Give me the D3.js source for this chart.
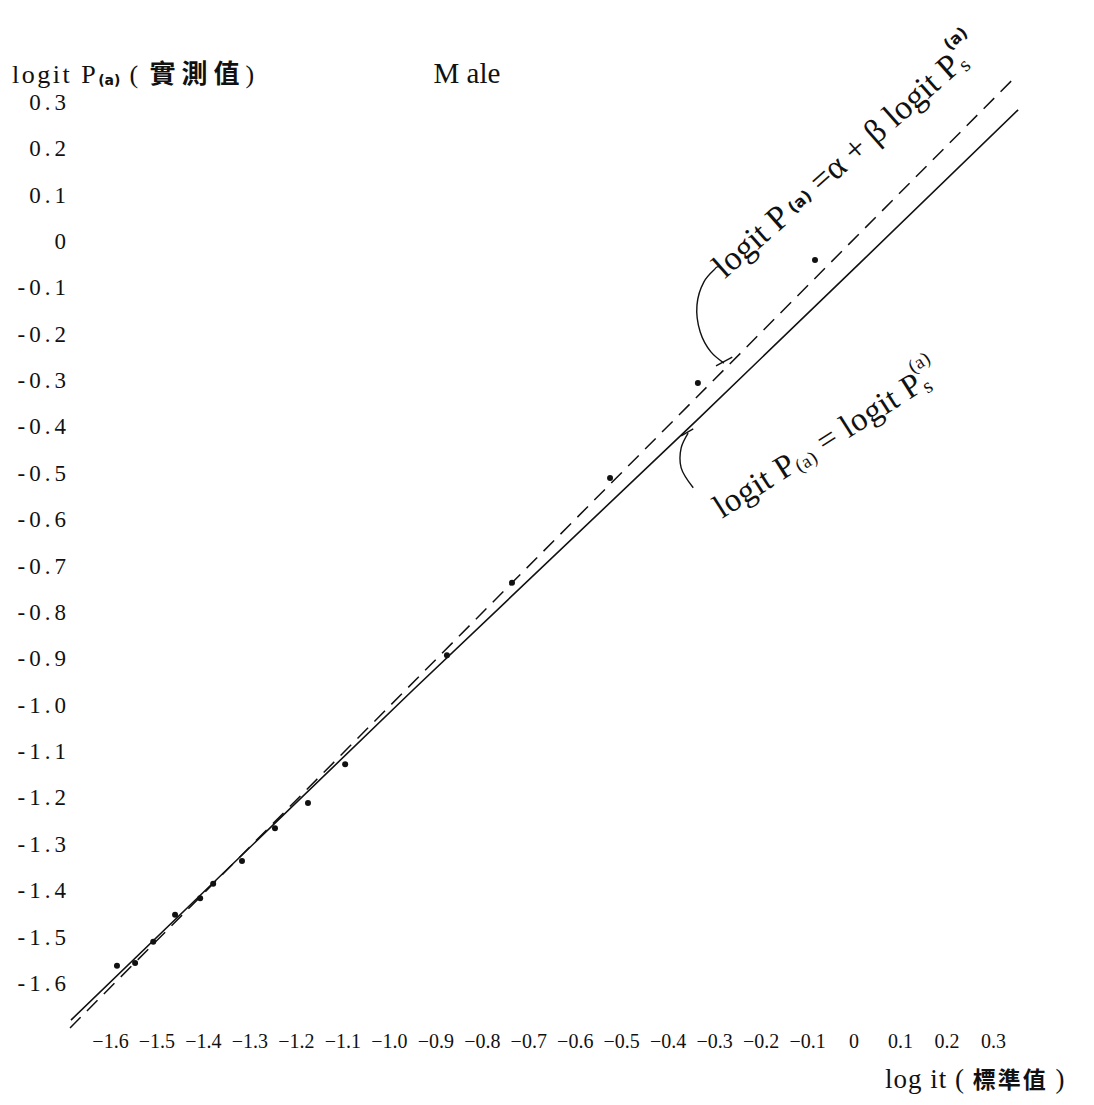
<!DOCTYPE html>
<html lang="en">
<head>
    <meta charset="UTF-8"/>
    <title>Male logit plot</title>
    <script src="https://d3js.org/d3.v7.min.js"></script>
    <style>
        body { margin: 0; background: #fff; }
        text { font-family: "Liberation Serif", "DejaVu Serif", serif; fill: #111; }
        .cjk { font-family: "Noto Sans CJK TC", "Noto Sans CJK SC", sans-serif; font-weight: bold; }
    </style>
</head>
<body>
<script>

    var w = 1094;
    var h = 1105;

    // tick values on both axes
    var xTicks = [-1.6, -1.5, -1.4, -1.3, -1.2, -1.1, -1.0, -0.9, -0.8, -0.7, -0.6, -0.5, -0.4, -0.3, -0.2, -0.1, 0, 0.1, 0.2, 0.3];
    var yTicks = [0.3, 0.2, 0.1, 0, -0.1, -0.2, -0.3, -0.4, -0.5, -0.6, -0.7, -0.8, -0.9, -1.0, -1.1, -1.2, -1.3, -1.4, -1.5, -1.6];

    // observed points: logit standard (x) vs logit observed (y)
    var ptX = [-1.585, -1.546, -1.507, -1.460, -1.406, -1.378, -1.316, -1.245, -1.174, -1.094, -0.875, -0.735, -0.524, -0.335, -0.083];
    var ptY = [-1.563, -1.557, -1.511, -1.453, -1.417, -1.386, -1.337, -1.266, -1.212, -1.128, -0.893, -0.737, -0.511, -0.306, -0.041];

    // line logit P = logit Ps (solid, as drawn)
    var solidX = [-1.684, -0.948, -0.337, 0.014, 0.354];
    var solidY = [-1.680, -0.968, -0.386, -0.047, 0.283];

    // fitted line logit P = a + b logit Ps (dashed)
    var dashX = [-1.686, -0.735, 0.341];
    var dashY = [-1.697, -0.737, 0.347];

    // bracket curves pointing at the two lines
    var brace1X = [-0.300, -0.322, -0.337, -0.330, -0.307, -0.279];
    var brace1Y = [-0.062, -0.088, -0.138, -0.196, -0.239, -0.263];
    var brace2X = [-0.356, -0.371, -0.371, -0.345];
    var brace2Y = [-0.414, -0.446, -0.489, -0.532];

    var x = d3.scaleLinear().domain([-1.6, 0.3]).range([110, 993]);
    var y = d3.scaleLinear().domain([0.3, -1.6]).range([102, 983]);

    var svg = d3.select("body")
                .append("svg")
                .attr("width", w)
                .attr("height", h);

    // y axis labels only
    var yAxis = d3.axisLeft(y)
                  .tickValues(yTicks)
                  .tickSize(0)
                  .tickPadding(0)
                  .tickFormat(function(d){
                      if (d === 0) return "0";
                      return d < 0 ? "-" + Math.abs(d).toFixed(1) : d.toFixed(1);
                  });
    var gy = svg.append("g")
        .attr("transform", "translate(70,0)")
        .call(yAxis);
    gy.select(".domain").remove();
    gy.selectAll("text")
        .style("font-family", "Liberation Serif, serif")
        .style("font-size", "23px")
        .style("letter-spacing", "4px")
        .attr("fill", "#111");

    // x axis labels only
    var xAxis = d3.axisBottom(x)
                  .tickValues(xTicks)
                  .tickSize(0)
                  .tickPadding(0)
                  .tickFormat(function(d){
                      if (d === 0) return "0";
                      return d < 0 ? "\u2212" + Math.abs(d).toFixed(1) : d.toFixed(1);
                  });
    var gx = svg.append("g")
        .attr("transform", "translate(0,1034)")
        .call(xAxis);
    gx.select(".domain").remove();
    gx.selectAll("text")
        .style("font-family", "Liberation Serif, serif")
        .style("font-size", "20px")
        .attr("fill", "#111");

    var line = d3.line()
        .x(function(d){ return x(d[0]); })
        .y(function(d){ return y(d[1]); });

    svg.append("path")
        .datum(d3.zip(solidX, solidY))
        .attr("d", line)
        .attr("fill", "none")
        .attr("stroke", "#111")
        .attr("stroke-width", 1.6);

    svg.append("path")
        .datum(d3.zip(dashX, dashY))
        .attr("d", line)
        .attr("fill", "none")
        .attr("stroke", "#111")
        .attr("stroke-width", 1.5)
        .attr("stroke-dasharray", "15,9");

    svg.selectAll("circle.pt")
        .data(d3.zip(ptX, ptY))
        .enter()
        .append("circle")
        .attr("class", "pt")
        .attr("cx", function(d){ return x(d[0]); })
        .attr("cy", function(d){ return y(d[1]); })
        .attr("r", 3)
        .attr("fill", "#111");

    // brackets
    var curve = d3.line()
        .x(function(d){ return x(d[0]); })
        .y(function(d){ return y(d[1]); })
        .curve(d3.curveCatmullRom);

    [[brace1X, brace1Y], [brace2X, brace2Y]].forEach(function(b){
        svg.append("path")
            .datum(d3.zip(b[0], b[1]))
            .attr("d", curve)
            .attr("fill", "none")
            .attr("stroke", "#111")
            .attr("stroke-width", 1.4);
    });

    // small hook at top of first bracket and ticks at the lines
    svg.append("path")
        .attr("d", "M" + x(-0.300) + "," + y(-0.062) + " q4,-6 7,-1")
        .attr("fill", "none").attr("stroke", "#111").attr("stroke-width", 1.3);
    svg.append("line")
        .attr("x1", x(-0.296)).attr("y1", y(-0.269))
        .attr("x2", x(-0.261)).attr("y2", y(-0.250))
        .attr("stroke", "#111").attr("stroke-width", 1.4);
    svg.append("line")
        .attr("x1", x(-0.371)).attr("y1", y(-0.420))
        .attr("x2", x(-0.345)).attr("y2", y(-0.405))
        .attr("stroke", "#111").attr("stroke-width", 1.4);

    // rotated equations
    var eq1 = svg.append("text")
        .attr("transform", "translate(" + x(-0.277) + "," + y(-0.082) + ") rotate(-41.5)")
        .style("font-size", "34px");
    eq1.append("tspan").text("logit P");
    eq1.append("tspan").text("(a)").style("font-size", "16px").style("font-weight", "bold")
        .style("font-family", "DejaVu Sans, sans-serif").attr("dx", 5).attr("dy", -3);
    eq1.append("tspan").text(" =\u03b1 + \u03b2 logit P").attr("dx", 0).attr("dy", 3);
    eq1.append("tspan").text("s").style("font-size", "21px").attr("dy", 5);
    eq1.append("tspan").text("(a)").style("font-size", "16px").style("font-weight", "bold")
        .style("font-family", "DejaVu Sans, sans-serif").attr("dx", -6).attr("dy", -27);

    var eq2 = svg.append("text")
        .attr("transform", "translate(" + x(-0.283) + "," + y(-0.599) + ") rotate(-32.5)")
        .style("font-size", "33px")
        .style("letter-spacing", "0.5px");
    eq2.append("tspan").text("logit P");
    eq2.append("tspan").text("(a)").style("font-size", "19px").attr("dy", 3);
    eq2.append("tspan").text(" = logit  P").attr("dy", -3);
    eq2.append("tspan").text("s").style("font-size", "21px").attr("dy", 5);
    eq2.append("tspan").text("(a)").style("font-size", "19px").attr("dx", -10).attr("dy", -25);

    // titles
    var yt = svg.append("text")
        .attr("x", 12)
        .attr("y", 83)
        .style("font-size", "26px")
        .style("letter-spacing", "2.5px");
    yt.append("tspan").text("logit  P");
    yt.append("tspan").text("(a)").style("font-size", "14px").style("font-weight", "bold")
        .style("font-family", "DejaVu Sans, sans-serif").style("letter-spacing", "0px").attr("dy", 2);
    yt.append("tspan").text(" ( ").attr("dy", -2);
    yt.append("tspan").attr("class", "cjk").text("實測值").style("font-size", "26px").style("letter-spacing", "6px");
    yt.append("tspan").text(")");

    svg.append("text")
        .attr("x", 467)
        .attr("y", 83)
        .attr("text-anchor", "middle")
        .style("font-size", "29px")
        .text("M ale");

    var xt = svg.append("text")
        .attr("x", 885)
        .attr("y", 1088)
        .style("font-size", "27px")
        .style("letter-spacing", "1px");
    xt.append("tspan").text("log it ( ");
    xt.append("tspan").attr("class", "cjk").text("標準值").style("font-size", "23px").style("letter-spacing", "2px");
    xt.append("tspan").text(" )");

</script>
</body>
</html>
